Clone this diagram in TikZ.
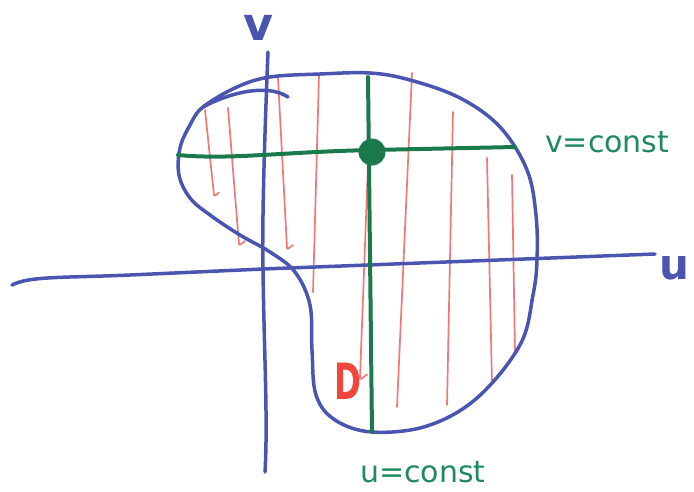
\documentclass[tikz,border=0pt]{standalone}
\usepackage{fontspec}
\setmainfont{DejaVu Sans}
\usepackage{tikz}
\usetikzlibrary{calc}
\definecolor{ink}{HTML}{4A55B0}
\definecolor{level}{HTML}{1B7A4C}
\definecolor{levtext}{HTML}{1E8A5E}
\definecolor{hatchred}{HTML}{F07878}
\definecolor{accent}{HTML}{F2453C}

\begin{document}
\begin{tikzpicture}[x=1pt, y=-1pt, line cap=round, line join=round,
    pen/.style={ink, line width=3.5pt},
    hatch/.style={hatchred, line width=1.7pt},
    levline/.style={level, line width=4pt},
    every node/.style={inner sep=0pt}]
  \useasboundingbox (0,0) rectangle (694,491);
  % hatching inside the region
  \foreach \xa/\ya/\xb/\yb/\h in {205/110/214/195/5, 228/108/239/244/6, 278/78/287/248/6,
      319/75/313/292/0, 368/165/360/378/7, 412/73/397/407/0, 453/112/447/405/0,
      487/158/492/383/0, 512/175/515/352/0}{
    \draw[hatch] (\xa,\ya) -- (\xb,\yb) to[out=-90, in=-150] +(\h,-\h/2);
  }
  % axes
  \draw[pen] (12,285) .. controls (30,276) and (60,278) .. (130,275)
    -- (263,269) -- (655,254);
  \draw[pen] (268,52) .. controls (264,150) and (262,230) .. (263,270)
    .. controls (264,350) and (268,420) .. (265,472);
  % the region D
  \draw[pen] plot[smooth cycle, tension=0.6] coordinates {
    (203,107) (237,87) (270,77) (320,74) (370,73) (410,80) (460,98) (500,127)
    (527,170) (536,215) (537,260) (533,295) (520,345) (477,398) (427,426)
    (372,432) (335,420) (316,395) (312,350) (310,305) (295,272) (270,252)
    (240,235) (210,215) (190,198) (179,175) (180,148) (190,125)};
  \draw[pen] (203,107) .. controls (225,95) and (265,82) .. (288,97);
  % level lines
  \coordinate (vl) at (178,155);
  \coordinate (vr) at (515,147);
  \coordinate (ut) at (368,77);
  \coordinate (ub) at (372,432);
  \draw[levline] (vl) .. controls (230,160) and (280,152) .. (372,150) -- (vr);
  \draw[levline] (ut) -- (ub);
  \fill[level] (372,152) circle (13.5);
  % labels
  \node[ink, font=\fontsize{46}{46}\selectfont\bfseries] (vlab) at (258,28) {v};
  \node[ink, font=\fontsize{42}{42}\selectfont\bfseries] (ulab) at (674,268) {u};
  \node[levtext, font=\fontsize{30}{30}\selectfont, anchor=base west] (vconst) at (545,152) {v=const};
  \node[levtext, font=\fontsize{30}{30}\selectfont, anchor=base west] (uconst) at (360,482) {u=const};
  \node[accent, font=\fontsize{50}{50}\selectfont\bfseries, xscale=0.65] (dlab) at (348,381) {D};
\end{tikzpicture}
\end{document}
